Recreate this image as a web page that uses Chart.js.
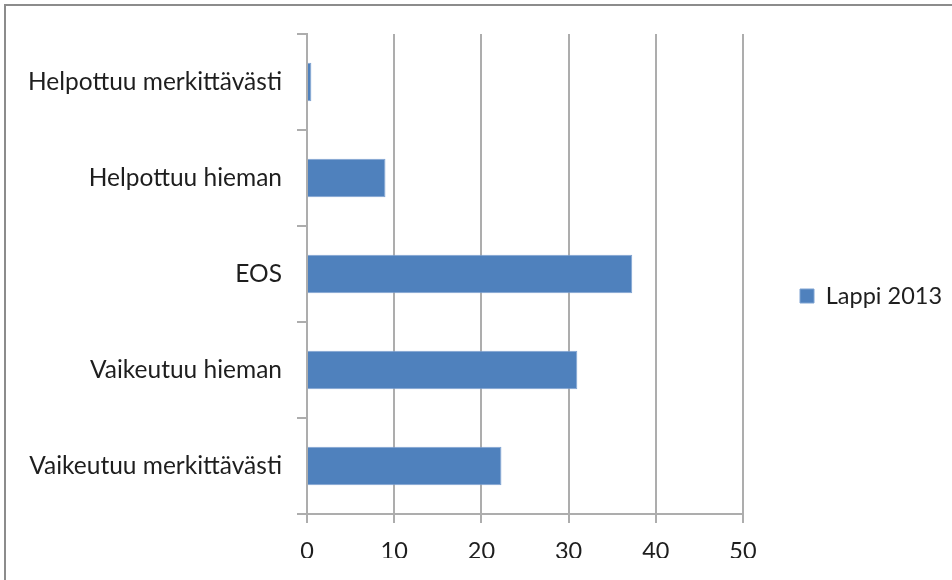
<!DOCTYPE html>
<html>
<head>
<meta charset="utf-8">
<script src="https://cdn.jsdelivr.net/npm/chart.js@4/dist/chart.umd.min.js"></script>
<style>
  html, body { margin: 0; padding: 0; background: #fff; overflow: hidden; }
  #wrap { position: relative; width: 952px; height: 580px; }
  #frame { position: absolute; left: 4px; top: 4px; width: 980px; height: 600px;
    border-left: 2px solid #8c8c8c; border-top: 2px solid #8c8c8c; pointer-events: none; }
  canvas { position: absolute; left: 0; top: 0; }
</style>
</head>
<body>
<div id="wrap">
  <canvas id="chart" width="952" height="580"></canvas>
  <div id="frame"></div>
</div>
<script>
const categories = [
  'Helpottuu merkittävästi',
  'Helpottuu hieman',
  'EOS',
  'Vaikeutuu hieman',
  'Vaikeutuu merkittävästi',
];
const seriesName = 'Lappi 2013';
const values = [0.5, 9.0, 37.3, 31.0, 22.3];
const xTicks = [0, 10, 20, 30, 40, 50];

const FONT = 'Lato, "Open Sans", sans-serif';
const GRID = '#adadad';
const TEXT = '#1e1e1e';

// legend box keeps a fixed width so the plot ends where the reference does
const legendWidth = {
  id: 'legendWidth',
  beforeInit(chart) {
    const fit = chart.legend.fit;
    chart.legend.fit = function () {
      fit.call(this);
      this.width = 209;
    };
  },
};

new Chart(document.getElementById('chart'), {
  type: 'bar',
  data: {
    labels: categories,
    datasets: [{
      label: seriesName,
      data: values,
      backgroundColor: '#4f81bd',
      borderColor: '#7fa3d2',
      borderWidth: 1,
      barPercentage: 0.4,
      categoryPercentage: 1,
    }],
  },
  plugins: [legendWidth],
  options: {
    indexAxis: 'y',
    responsive: false,
    animation: false,
    devicePixelRatio: 1,
    layout: { padding: { top: 34, left: 0, right: 0, bottom: 22 } },
    plugins: {
      tooltip: { enabled: false },
      legend: {
        position: 'right',
        align: 'center',
        labels: {
          boxWidth: 14,
          boxHeight: 14,
          padding: 57,
          color: TEXT,
          font: { family: FONT, size: 23.5 },
        },
      },
    },
    scales: {
      x: {
        min: 0,
        max: 50,
        afterBuildTicks: (scale) => { scale.ticks = xTicks.map((v) => ({ value: v })); },
        afterFit: (scale) => { scale.height = 44; },
        grid: { color: GRID, lineWidth: 2, tickLength: 9, tickColor: GRID },
        border: { display: true, color: GRID, width: 2 },
        ticks: { color: TEXT, padding: 14, font: { family: FONT, size: 23.5 } },
      },
      y: {
        afterFit: (scale) => { scale.width = 307; },
        grid: { drawOnChartArea: false, offset: true, color: GRID, lineWidth: 2, tickLength: 10 },
        border: { display: true, color: GRID, width: 2 },
        ticks: { color: TEXT, padding: 15, font: { family: FONT, size: 24.5 } },
      },
    },
  },
});
</script>
</body>
</html>
